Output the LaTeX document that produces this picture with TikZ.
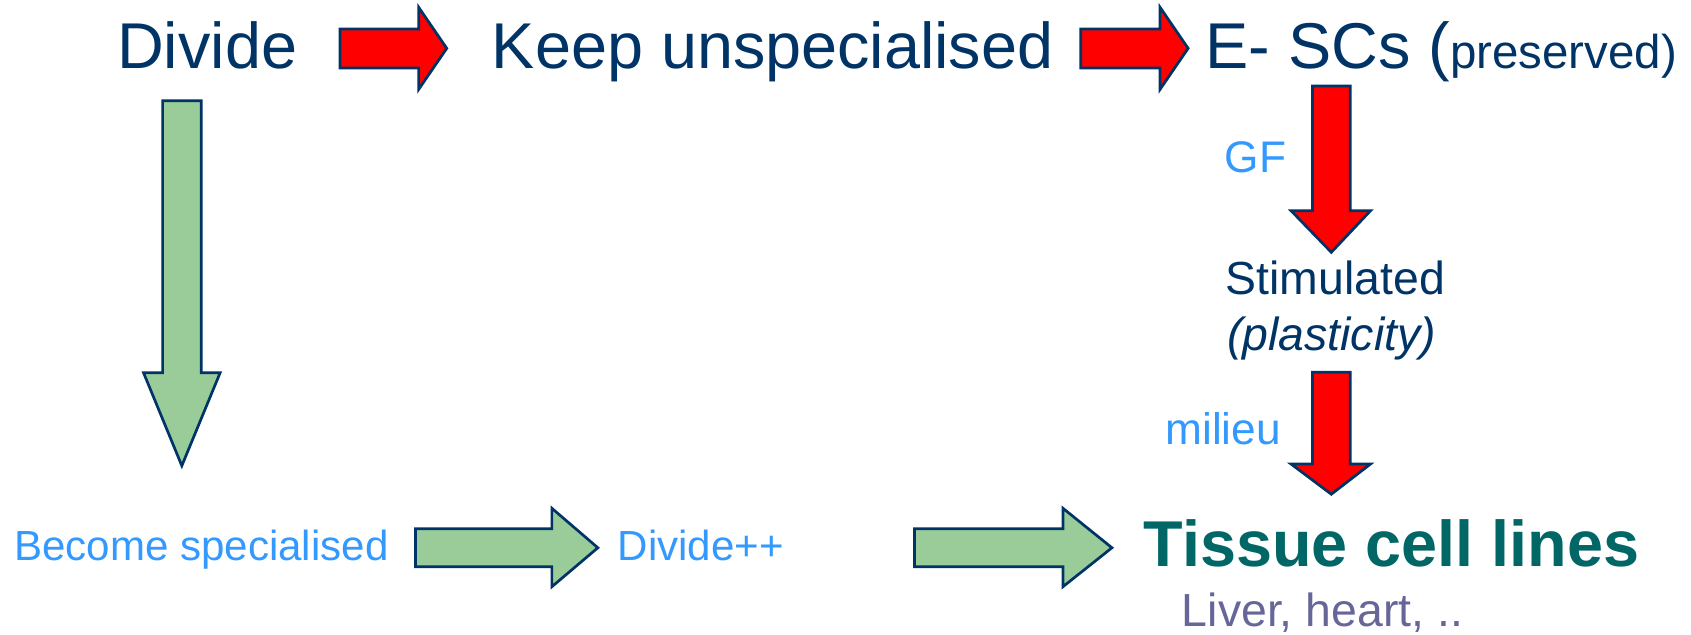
\documentclass[tikz,border=0pt]{standalone}
\usepackage{fontspec}
\setmainfont{Liberation Sans}
\definecolor{navy}{RGB}{0,51,102}
\definecolor{skyblue}{RGB}{51,153,255}
\definecolor{teal6}{RGB}{0,102,102}
\definecolor{lilac}{RGB}{102,102,153}
\definecolor{leaf}{RGB}{153,204,153}
\definecolor{pure}{RGB}{255,0,0}
\tikzset{
  txt/.style={inner sep=0pt, anchor=base},
  big/.style={txt, text=navy, font=\fontsize{60}{72}\selectfont},
  mid/.style={txt, text=navy, font=\fontsize{43}{52}\selectfont},
  lbl/.style={txt, text=skyblue, font=\fontsize{41}{49}\selectfont},
  greentxt/.style={txt, text=skyblue, font=\fontsize{39}{47}\selectfont},
  redarrow/.style={fill=pure, draw=navy, line width=2.5pt, line join=miter},
  greenarrow/.style={fill=leaf, draw=navy, line width=2.5pt, line join=miter}
}
\begin{document}
\begin{tikzpicture}[x=1pt,y=-1pt]
\useasboundingbox (0,0) rectangle (1567,588);
% top row texts
\node[big] (divide) at (192,63.3) {Divide};
\node[big] (keep) at (716,63.3) {Keep unspecialised};
\node[big, anchor=base west] (escs) at (1117,63.3) {E- SCs (\fontsize{44}{52}\selectfont preserved)};
% right column texts
\node[lbl] (gf) at (1163.5,159.7) {GF};
\node[mid] (stim) at (1237.5,272.5) {Stimulated};
\node[mid, font=\fontsize{43}{52}\selectfont\itshape] (plast) at (1234,324.4) {(plasticity)};
\node[lbl] (milieu) at (1133.5,411.5) {milieu};
% bottom row texts
\node[greentxt] (become) at (186.6,519) {Become specialised};
\node[greentxt] (divpp) at (649.5,519) {Divide++};
\node[txt, text=teal6, font=\fontsize{60}{72}\selectfont\bfseries] (tissue) at (1289.5,525.2) {Tissue cell lines};
\node[txt, text=lilac, font=\fontsize{43}{52}\selectfont] (liver) at (1225.5,580.8) {Liver, heart, ..};
% red horizontal block arrows
\draw[redarrow] (315,26.9) -- (388,26.9) -- (388,6.8) -- (414,44.8) -- (388,82.8) -- (388,63) -- (315,63) -- cycle;
\draw[redarrow] (1001.5,26.9) -- (1075,26.9) -- (1075,6.8) -- (1101,44.8) -- (1075,82.8) -- (1075,63) -- (1001.5,63) -- cycle;
% red vertical block arrows
\draw[redarrow] (1216.3,79.7) -- (1251.2,79.7) -- (1251.2,195.3) -- (1270,195.3) -- (1233.7,233.8) -- (1196.4,195.3) -- (1216.3,195.3) -- cycle;
\draw[redarrow] (1216.3,345) -- (1251.2,345) -- (1251.2,430) -- (1270,430) -- (1233.7,458) -- (1196.4,430) -- (1216.3,430) -- cycle;
% green vertical block arrow
\draw[greenarrow] (150.7,93.3) -- (186.4,93.3) -- (186.4,345.4) -- (204,345.4) -- (168.5,431.6) -- (133,345.4) -- (150.7,345.4) -- cycle;
% green horizontal block arrows
\draw[greenarrow] (385,490) -- (511.4,490) -- (511.4,471) -- (554,507.6) -- (511.4,543.7) -- (511.4,525.2) -- (385,525.2) -- cycle;
\draw[greenarrow] (847.4,490) -- (985,490) -- (985,471) -- (1030.4,507.6) -- (985,543.7) -- (985,525.2) -- (847.4,525.2) -- cycle;
\end{tikzpicture}
\end{document}
